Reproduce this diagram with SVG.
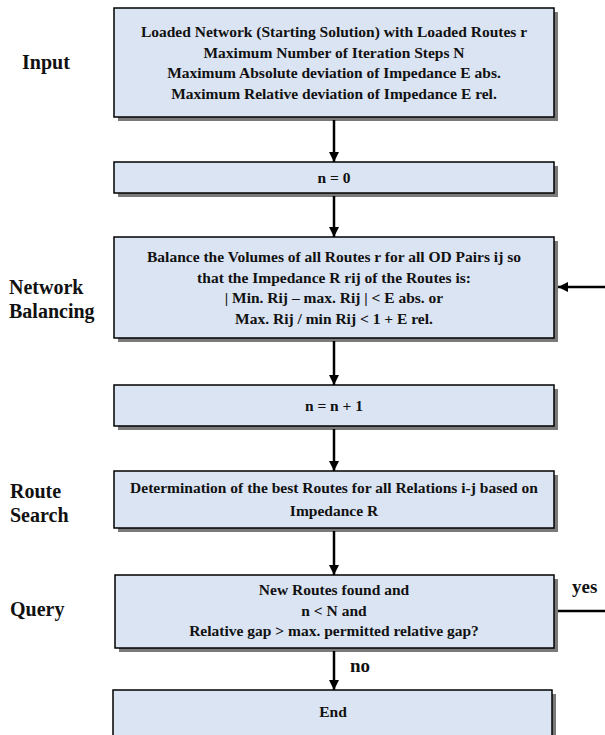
<svg xmlns="http://www.w3.org/2000/svg" width="605" height="735" viewBox="0 0 605 735">
<defs>
<marker id="ah" viewBox="0 0 10 10" refX="10" refY="5" markerWidth="10" markerHeight="10" markerUnits="userSpaceOnUse" orient="auto">
<path d="M0,0 L10,5 L0,10 Z" fill="#000"/>
</marker>
</defs>
<style>
.sh{fill:#7a7a7a}
.bx{fill:#dbe4f3;stroke:#000;stroke-width:1.5}
.t{font-family:"Liberation Serif","Times New Roman",serif;font-weight:bold;font-size:15.5px;fill:#111;text-anchor:middle}
.lb{font-family:"Liberation Serif","Times New Roman",serif;font-weight:bold;font-size:20px;fill:#111}
.c{stroke:#000;stroke-width:2.5;fill:none}
</style>
<rect width="605" height="735" fill="#fff"/>
<g id="labels">
<text class="lb" x="22" y="69">Input</text>
<text class="lb" x="9" y="294">Network</text>
<text class="lb" x="9" y="318">Balancing</text>
<text class="lb" x="10" y="498">Route</text>
<text class="lb" x="10" y="522">Search</text>
<text class="lb" x="10" y="616">Query</text>
</g>
<g id="input">
<rect class="sh" x="118" y="12" width="440" height="109"/>
<rect class="bx" x="114" y="8" width="440" height="109"/>
<text class="t" x="334" y="37">Loaded Network (Starting Solution) with Loaded Routes r</text>
<text class="t" x="334" y="57.5">Maximum Number of Iteration Steps N</text>
<text class="t" x="334" y="78">Maximum Absolute deviation of Impedance E abs.</text>
<text class="t" x="334" y="98.5">Maximum Relative deviation of Impedance E rel.</text>
</g>
<g id="init">
<rect class="sh" x="118" y="166" width="440" height="31"/>
<rect class="bx" x="114" y="162" width="440" height="31"/>
<text class="t" x="334" y="183">n = 0</text>
</g>
<g id="balance">
<rect class="sh" x="118" y="241" width="440" height="101"/>
<rect class="bx" x="114" y="237" width="440" height="101"/>
<text class="t" x="334" y="262">Balance the Volumes of all Routes r for all OD Pairs ij  so</text>
<text class="t" x="334" y="282.5">that the Impedance R rij of the Routes is:</text>
<text class="t" x="334" y="303">| Min. Rij – max. Rij | &lt; E abs. or</text>
<text class="t" x="334" y="324">Max. Rij / min Rij &lt; 1 + E rel.</text>
</g>
<g id="increment">
<rect class="sh" x="118" y="389" width="440" height="41"/>
<rect class="bx" x="114" y="385" width="440" height="41"/>
<text class="t" x="334" y="411">n = n + 1</text>
</g>
<g id="search">
<rect class="sh" x="118" y="475" width="440" height="57"/>
<rect class="bx" x="114" y="471" width="440" height="57"/>
<text class="t" x="334" y="493">Determination of the best Routes for all Relations i-j based on</text>
<text class="t" x="334" y="515.5">Impedance R</text>
</g>
<g id="query">
<rect class="sh" x="119" y="579" width="439" height="73"/>
<rect class="bx" x="115" y="575" width="439" height="73"/>
<text class="t" x="334" y="595">New Routes found and</text>
<text class="t" x="334" y="615.5">n &lt; N and</text>
<text class="t" x="334" y="636">Relative gap &gt; max. permitted relative gap?</text>
</g>
<g id="end">
<rect class="sh" x="117" y="694" width="439" height="50"/>
<rect class="bx" x="113" y="690" width="439" height="50"/>
<text class="t" x="333" y="717">End</text>
</g>
<g id="connectors">
<line class="c" x1="334" y1="120" x2="334" y2="162" marker-end="url(#ah)"/>
<line class="c" x1="334" y1="196" x2="334" y2="237" marker-end="url(#ah)"/>
<line class="c" x1="334" y1="341" x2="334" y2="385" marker-end="url(#ah)"/>
<line class="c" x1="334" y1="429" x2="334" y2="471" marker-end="url(#ah)"/>
<line class="c" x1="334" y1="531" x2="334" y2="575" marker-end="url(#ah)"/>
<line class="c" x1="334" y1="651" x2="334" y2="690" marker-end="url(#ah)"/>
<line class="c" x1="605" y1="287" x2="558" y2="287" marker-end="url(#ah)"/>
<line class="c" x1="558" y1="611" x2="605" y2="611"/>
<text class="lb" x="572" y="593" style="font-size:19px">yes</text>
<text class="lb" x="350" y="672" style="font-size:19px">no</text>
</g>
</svg>
